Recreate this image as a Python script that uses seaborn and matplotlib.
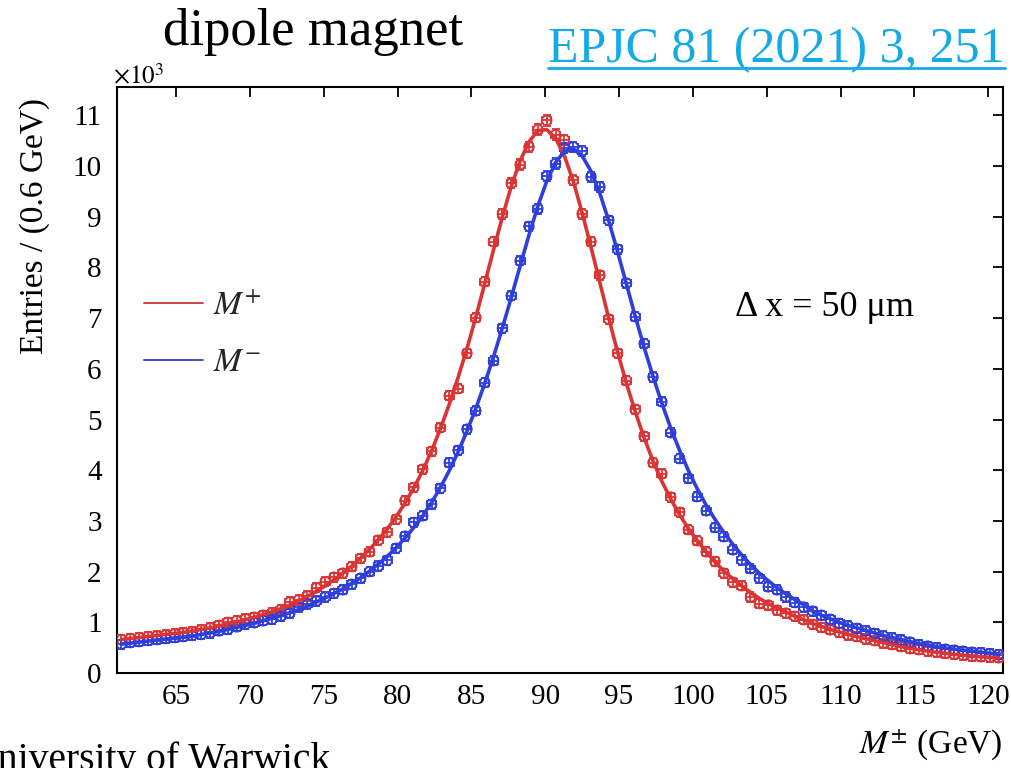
import numpy as np
import pandas as pd
import matplotlib
matplotlib.use("Agg")
import matplotlib.pyplot as plt
from matplotlib.lines import Line2D
import seaborn as sns

# ---- binning: 100 bins of 0.6 GeV between 61 and 121 GeV ----
bin_low = 61.0
bin_width = 0.6
n_bins = 100
mass = [round(bin_low + bin_width * (i + 0.5), 2) for i in range(n_bins)]

# ---- entries per bin (x10^3) ----
m_plus_counts = [
    0.66, 0.68, 0.70, 0.72, 0.73, 0.75, 0.77, 0.79, 0.81, 0.85,
    0.89, 0.94, 1.00, 1.03, 1.07, 1.10, 1.14, 1.19, 1.25, 1.40,
    1.44, 1.52, 1.68, 1.80, 1.89, 1.97, 2.10, 2.26, 2.39, 2.62,
    2.78, 3.03, 3.40, 3.66, 4.02, 4.37, 4.84, 5.47, 5.61, 6.31,
    7.01, 7.72, 8.51, 9.06, 9.66, 10.03, 10.38, 10.72, 10.90, 10.62,
    10.52, 9.72, 9.06, 8.51, 7.85, 6.98, 6.31, 5.77, 5.20, 4.67,
    4.15, 3.93, 3.47, 3.17, 2.83, 2.61, 2.39, 2.20, 1.97, 1.79,
    1.72, 1.50, 1.37, 1.34, 1.24, 1.18, 1.12, 1.05, 0.96, 0.90,
    0.85, 0.80, 0.75, 0.72, 0.67, 0.64, 0.59, 0.56, 0.52, 0.48,
    0.46, 0.43, 0.41, 0.39, 0.37, 0.35, 0.33, 0.32, 0.31, 0.30,
]
m_minus_counts = [
    0.57, 0.60, 0.62, 0.64, 0.66, 0.68, 0.70, 0.72, 0.74, 0.76,
    0.79, 0.83, 0.86, 0.91, 0.96, 0.99, 1.03, 1.06, 1.12, 1.18,
    1.30, 1.36, 1.42, 1.50, 1.57, 1.64, 1.75, 1.87, 2.00, 2.11,
    2.22, 2.46, 2.70, 2.97, 3.10, 3.33, 3.64, 4.15, 4.39, 4.81,
    5.17, 5.73, 6.16, 6.80, 7.44, 8.13, 8.81, 9.16, 9.80, 10.05,
    10.35, 10.38, 10.30, 9.79, 9.59, 8.93, 8.36, 7.69, 7.03, 6.50,
    5.84, 5.35, 4.74, 4.23, 3.84, 3.48, 3.20, 2.87, 2.69, 2.43,
    2.23, 2.06, 1.87, 1.70, 1.64, 1.50, 1.39, 1.30, 1.22, 1.14,
    1.06, 0.98, 0.93, 0.88, 0.83, 0.78, 0.73, 0.69, 0.65, 0.61,
    0.56, 0.53, 0.50, 0.47, 0.45, 0.43, 0.41, 0.40, 0.38, 0.36,
]

# ---- fitted line shapes evaluated at the bin centres (x10^3) ----
m_plus_fit = [
    0.66, 0.68, 0.70, 0.72, 0.74, 0.76, 0.78, 0.80, 0.83, 0.86,
    0.89, 0.93, 0.97, 1.01, 1.05, 1.10, 1.15, 1.21, 1.27, 1.34,
    1.42, 1.51, 1.61, 1.72, 1.84, 1.97, 2.11, 2.27, 2.44, 2.63,
    2.84, 3.08, 3.35, 3.65, 3.99, 4.38, 4.82, 5.30, 5.83, 6.40,
    7.02, 7.68, 8.35, 9.00, 9.60, 10.10, 10.48, 10.70, 10.72, 10.55,
    10.20, 9.70, 9.08, 8.40, 7.70, 7.00, 6.33, 5.71, 5.15, 4.64,
    4.18, 3.78, 3.43, 3.12, 2.85, 2.61, 2.39, 2.19, 2.01, 1.86,
    1.72, 1.59, 1.47, 1.37, 1.28, 1.20, 1.12, 1.05, 0.98, 0.92,
    0.86, 0.81, 0.76, 0.72, 0.68, 0.64, 0.60, 0.56, 0.52, 0.49,
    0.46, 0.43, 0.41, 0.39, 0.37, 0.35, 0.34, 0.32, 0.31, 0.30,
]
m_minus_fit = [
    0.57, 0.59, 0.61, 0.63, 0.65, 0.67, 0.69, 0.71, 0.73, 0.76,
    0.79, 0.82, 0.86, 0.90, 0.94, 0.98, 1.03, 1.08, 1.13, 1.19,
    1.25, 1.32, 1.40, 1.48, 1.57, 1.66, 1.77, 1.88, 2.01, 2.15,
    2.30, 2.47, 2.66, 2.87, 3.10, 3.36, 3.66, 3.99, 4.36, 4.77,
    5.22, 5.71, 6.24, 6.81, 7.41, 8.03, 8.64, 9.21, 9.70, 10.07,
    10.29, 10.34, 10.20, 9.90, 9.46, 8.92, 8.31, 7.67, 7.03, 6.42,
    5.85, 5.32, 4.83, 4.39, 3.99, 3.63, 3.31, 3.03, 2.77, 2.54,
    2.33, 2.14, 1.97, 1.82, 1.68, 1.56, 1.45, 1.35, 1.22, 1.14,
    1.07, 1.00, 0.94, 0.89, 0.84, 0.79, 0.74, 0.70, 0.66, 0.62,
    0.58, 0.55, 0.52, 0.49, 0.47, 0.45, 0.43, 0.41, 0.39, 0.37,
]

x_ticks = [65, 70, 75, 80, 85, 90, 95, 100, 105, 110, 115, 120]
y_ticks = [0, 1, 2, 3, 4, 5, 6, 7, 8, 9, 10, 11]

RED = "#db3434"
BLUE = "#2f3fdc"

sns.set_theme(style="white")
plt.rcParams["font.family"] = ["Liberation Serif", "DejaVu Serif"]
plt.rcParams["mathtext.fontset"] = "stix"

df = pd.DataFrame({
    "mass": mass * 2,
    "entries": m_plus_counts + m_minus_counts,
    "fit": m_plus_fit + m_minus_fit,
    "charge": ["M+"] * n_bins + ["M-"] * n_bins,
})
df["err"] = np.sqrt(df["entries"] * 1000.0) / 1000.0

fig = plt.figure(figsize=(10.12, 7.68), dpi=100)
ax = fig.add_axes([117 / 1012, 1 - 673 / 768, 886 / 1012, 586 / 768])

palette = {"M+": RED, "M-": BLUE}

# data points with bin-width and statistical error bars
for charge, sub in df.groupby("charge"):
    col = palette[charge]
    ax.errorbar(sub["mass"], sub["entries"], xerr=bin_width / 2,
                yerr=np.maximum(sub["err"], 0.09),
                fmt="none", ecolor=col, elinewidth=1.3, capsize=2.6, capthick=1.3,
                zorder=3)
sns.scatterplot(data=df, x="mass", y="entries", hue="charge", palette=palette,
                marker="o", s=48, linewidth=1.3, legend=False, ax=ax, zorder=4)
# open markers drawn in their series colour
for coll in ax.collections:
    fc = coll.get_facecolors()
    if len(fc) and coll.get_offsets().shape[0] == 2 * n_bins:
        coll.set_edgecolors(fc)
        coll.set_facecolors("none")

# fitted curves
sns.lineplot(data=df, x="mass", y="fit", hue="charge", palette=palette,
             linewidth=2.6, legend=False, ax=ax, zorder=5)

ax.set_xlim(61, 121)
ax.set_ylim(0, 11.56)
ax.set_xticks(x_ticks)
ax.set_yticks(y_ticks)
ax.set_xlabel("")
ax.set_ylabel("")
ax.tick_params(direction="in", top=True, right=True, length=7.5, width=1.3,
               labelsize=21, colors="black", pad=8)
ax.tick_params(axis="x", labeltop=False)
ax.tick_params(axis="y", labelright=False, pad=11)
for sp in ax.spines.values():
    sp.set_visible(True)
    sp.set_color("black")
    sp.set_linewidth(1.5)
ax.set_facecolor("white")
ax.grid(False)

# legend
handles = [Line2D([0], [0], color="#d04444", lw=1.4),
           Line2D([0], [0], color="#4848c4", lw=1.4)]
ax.legend(handles, [r"$M^{+}$", r"$M^{-}$"], loc="center left",
          bbox_to_anchor=(-0.003, 0.577), frameon=False, fontsize=24,
          handlelength=1.75, handletextpad=0.3, labelspacing=0.78)

ax.text(0.697, 0.623, "Δ x = 50 μm", transform=ax.transAxes, fontsize=26,
        ha="left", va="center", color="black")

fig.text(113 / 1012, 1 - 84 / 768, r"$\times10^{3}$", fontsize=18,
         ha="left", va="baseline", color="black")
fig.text(35 / 1012, 1 - 226 / 768, "Entries / (0.6 GeV)", rotation=90,
         fontsize=24, ha="center", va="center", color="black")
fig.text(1003 / 1012, 1 - 745 / 768, r"$M^{\pm}$ (GeV)", fontsize=24,
         ha="right", va="center", color="black")

fig.text(313 / 1012, 1 - 45 / 768, "dipole magnet", fontsize=38,
         ha="center", va="baseline", color="black")
ref = fig.text(548 / 1012, 1 - 62 / 768, "EPJC 81 (2021) 3, 251", fontsize=36,
               ha="left", va="baseline", color="#14aae8")
fig.text(330 / 1012, 1 - 770 / 768, "University of Warwick", fontsize=28.5,
         ha="right", va="baseline", color="black")

# underline for the reference
fig.canvas.draw()
bb = ref.get_window_extent().transformed(fig.transFigure.inverted())
y_ul = 1 - 68 / 768
fig.add_artist(Line2D([bb.x0, bb.x1], [y_ul, y_ul], transform=fig.transFigure,
                      color="#14aae8", lw=2))

fig.savefig("out.png", dpi=100, facecolor="white")
